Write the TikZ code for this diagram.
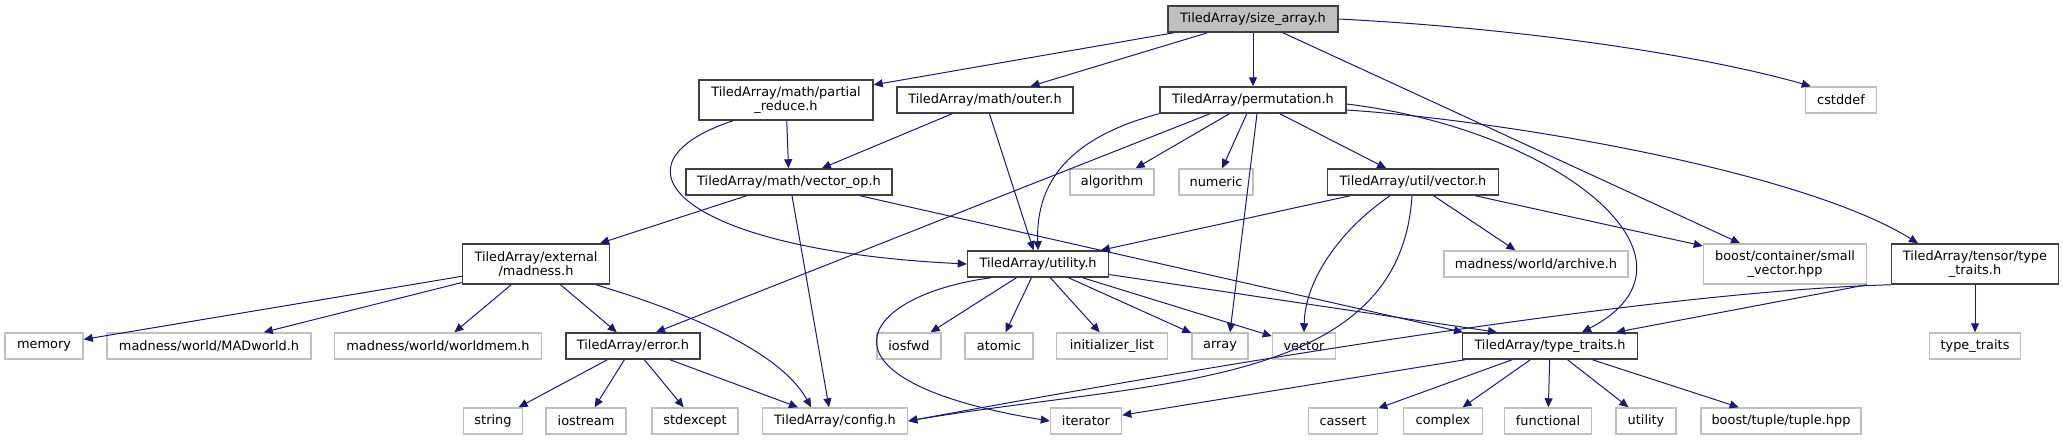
\documentclass[tikz,border=0pt]{standalone}
\usepackage{fontspec}
\setmainfont{DejaVu Sans}
\usetikzlibrary{arrows.meta}
\definecolor{edgeblue}{HTML}{191970}
\definecolor{boxgray}{HTML}{404040}
\definecolor{sysgray}{HTML}{BFBFBF}
\begin{document}
\begin{tikzpicture}[x=1pt, y=-1pt, >={Triangle[length=9pt,width=8pt]},
    every node/.style={font=\fontsize{12.9}{13.5}\selectfont, minimum height=26pt, inner sep=0pt, align=center},
    hdr/.style={draw=boxgray, line width=1.5pt, fill=white},
    sys/.style={draw=sysgray, line width=1.5pt, fill=white},
    incl/.style={->, draw=edgeblue, line width=1pt}]
    \useasboundingbox (0,0) rectangle (2063,440);
    \node[hdr, fill=sysgray, minimum width=170pt] (sizearray) at (1253,19) {TiledArray/size\_array.h};
    \node[hdr, minimum width=174pt, minimum height=40pt] (partialreduce) at (786,100) {TiledArray/math/partial\\\_reduce.h};
    \node[hdr, minimum width=176pt] (outer) at (985,100) {TiledArray/math/outer.h};
    \node[hdr, minimum width=186pt] (permutation) at (1253,100) {TiledArray/permutation.h};
    \node[hdr, minimum width=206pt] (vectorop) at (789,182) {TiledArray/math/vector\_op.h};
    \node[hdr, minimum width=171pt] (utilvector) at (1413,182) {TiledArray/util/vector.h};
    \node[hdr, minimum width=147pt, minimum height=40pt] (madness) at (536,264) {TiledArray/external\\/madness.h};
    \node[hdr, minimum width=141pt] (utility) at (1038,264) {TiledArray/utility.h};
    \node[hdr, minimum width=167pt, minimum height=40pt] (tensortraits) at (1975,264) {TiledArray/tensor/type\\\_traits.h};
    \node[hdr, minimum width=134pt] (error) at (633,346) {TiledArray/error.h};
    \node[hdr, minimum width=175pt] (typetraits) at (1550,346) {TiledArray/type\_traits.h};
    \node[sys, minimum width=145pt] (config) at (835,421) {TiledArray/config.h};
    \node[sys, minimum width=163pt, minimum height=40pt] (smallvector) at (1785,264) {boost/container/small\\\_vector.hpp};
    \foreach \n/\x/\y/\w/\t in {cstddef/1841/100/71/cstddef, algorithm/1112/182/84/algorithm,
            numeric/1216/182/74/numeric, archive/1536/264/184/{madness/world/archive.h},
            memory/44/346/78/memory, madworld/209/346/204/{madness/world/MADworld.h},
            worldmem/438/346/207/{madness/world/worldmem.h}, iosfwd/909/346/64/iosfwd,
            atomic/999/346/68/atomic, initlist/1112/346/111/{initializer\_list},
            array/1220/346/56/array, vector/1304/346/63/vector, stdtraits/1975/346/91/{type\_traits},
            string/493/421/59/string, iostream/586/421/80/iostream, stdexcept/695/421/86/stdexcept,
            iterator/1086/421/71/iterator, cassert/1343/421/69/cassert, complex/1443/421/79/complex,
            functional/1548/421/87/functional, utilitystd/1646/421/60/utility,
            tuple/1781/421/160/{boost/tuple/tuple.hpp}} {
            \node[sys, minimum width=\w pt] (\n) at (\x,\y) {\t};
        }
    \foreach \s/\t in {sizearray/partialreduce, sizearray/outer, sizearray/permutation, sizearray/smallvector,
            partialreduce/vectorop, outer/vectorop, outer/utility,
            permutation/algorithm, permutation/numeric, permutation/utilvector,
            vectorop/madness, utilvector/utility, utilvector/archive, utilvector/smallvector,
            madness/memory, madness/madworld, madness/worldmem, madness/error,
            utility/iosfwd, utility/atomic, utility/initlist, utility/array, utility/vector,
            tensortraits/stdtraits, error/string, error/iostream, error/stdexcept, error/config,
            typetraits/cassert, typetraits/complex, typetraits/functional, typetraits/utilitystd,
            typetraits/tuple, typetraits/iterator} {
            \draw[incl] (\s) -- (\t);
        }
    \draw[incl] (sizearray.east) .. controls (1550,30) and (1720,60) .. ([xshift=6pt]cstddef.north west);
    \draw[incl] ([xshift=-53pt]partialreduce.south) .. controls (600,165) and (680,250) .. (utility.west);
    \draw[incl] ([xshift=-94pt]permutation.south) .. controls (1060,140) and (1036,190) .. (utility.north);
    \draw[incl] ([xshift=-43pt]permutation.south) -- ([xshift=23pt]error.north);
    \draw[incl] ([xshift=4pt]permutation.south) -- ([xshift=10pt]array.north);
    \draw[incl] ([yshift=-4pt]permutation.east) .. controls (1560,130) and (1720,260) .. ([xshift=32pt]typetraits.north);
    \draw[incl] ([yshift=-10pt]permutation.east) .. controls (1500,120) and (1800,170) .. ([xshift=-57pt]tensortraits.north);
    \draw[incl] ([xshift=3pt]vectorop.south) -- ([xshift=-6pt]config.north);
    \draw[incl] ([xshift=71pt]vectorop.south) -- ([xshift=-87pt]typetraits.north);
    \draw[incl] ([xshift=-23pt]utilvector.south) .. controls (1340,230) and (1305,280) .. (vector.north);
    \draw[incl] ([xshift=-1pt]utilvector.south) .. controls (1400,390) and (1150,380) .. (config.east);
    \draw[incl] ([xshift=60pt]madness.south) .. controls (680,310) and (780,350) .. ([xshift=-24pt]config.north);
    \draw[incl] (utility) -- ([xshift=-53pt]typetraits.north);
    \draw[incl] ([xshift=-47pt]utility.south) .. controls (860,295) and (800,380) .. (iterator.west);
    \draw[incl] ([xshift=-108pt]tensortraits.south) -- ([xshift=66pt]typetraits.north);
    \draw[incl] (tensortraits.south west) .. controls (1700,290) and (1350,340) .. (config.east);
\end{tikzpicture}
\end{document}
